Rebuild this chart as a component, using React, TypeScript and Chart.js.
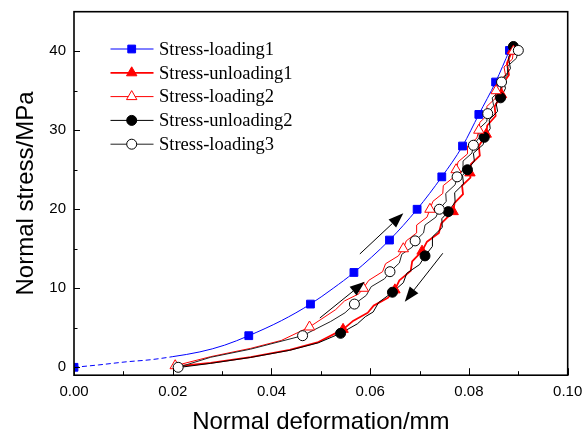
import React, { useEffect, useRef } from 'react';
import { Chart, registerables } from 'chart.js';
import { drawPoint } from 'chart.js/helpers';

Chart.register(...registerables);

// ---- axis ticks ----
const xMajorTicks = [0, 0.02, 0.04, 0.06, 0.08, 0.1];
const xMinorTicks = [0.01, 0.03, 0.05, 0.07, 0.09];
const yMajorTicks = [0, 10, 20, 30, 40];
const yMinorTicks = [5, 15, 25, 35];

const seriesNames = [
  'Stress-loading1',
  'Stress-unloading1',
  'Stress-loading2',
  'Stress-unloading2',
  'Stress-loading3',
];

// ---- Stress-loading1 ----
const loading1Def = [0, 0.005, 0.0107, 0.0154, 0.02, 0.0255, 0.0305, 0.0354, 0.042, 0.0479, 0.0525, 0.0567, 0.0639, 0.0695, 0.0745, 0.0787, 0.082, 0.0854, 0.0882];
const loading1Stress = [0, 0.3, 0.7, 0.95, 1.35, 1.95, 2.8, 4.0, 5.9, 8.0, 10.0, 12.0, 16.1, 20.0, 24.1, 28.0, 32.0, 36.1, 40.1];
const loading1MarkDef = [0, 0.0354, 0.0479, 0.0567, 0.0639, 0.0695, 0.0745, 0.0787, 0.082, 0.0854, 0.0882];
const loading1MarkStress = [0, 4, 8, 12, 16.1, 20, 24.1, 28, 32, 36.1, 40.1];

// ---- Stress-unloading1 ----
const unloading1Def = [
  0.0205, 0.0277, 0.0358, 0.0437, 0.0495, 0.0545, 0.0566, 0.0595, 0.0607, 0.0636, 0.065,
  0.0659, 0.0682, 0.0685, 0.0705, 0.0715, 0.0739, 0.0744, 0.0768, 0.0771, 0.0788, 0.0786, 0.0803,
  0.0802, 0.0804, 0.0822, 0.082, 0.0835, 0.0837, 0.0854, 0.0852, 0.0866, 0.0866, 0.0881, 0.0877, 0.0888,
];
const unloading1Stress = [
  0.1, 0.55, 1.3, 2.2, 3.2, 4.8, 5.9, 6.9, 7.8, 8.8, 9.8,
  11.0, 12.2, 13.4, 14.7, 15.9, 17.0, 18.2, 19.7, 20.8, 21.9, 23.0, 24.0,
  24.6, 25.7, 26.8, 28.0, 29.5, 30.6, 31.8, 33.0, 34.5, 35.7, 37.0, 38.5, 40.1,
];
const unloading1MarkDef = [0.0545, 0.065, 0.0705, 0.0768, 0.0802, 0.0835, 0.0866, 0.0888];
const unloading1MarkStress = [4.8, 9.8, 14.7, 19.7, 24.6, 29.5, 34.5, 40.1];

// ---- Stress-loading2 ----
const loading2Def = [
  0.0205, 0.0277, 0.0358, 0.042, 0.0477, 0.053, 0.0548, 0.0577, 0.0586,
  0.0597, 0.0625, 0.0631, 0.0657, 0.0667, 0.0673, 0.0694, 0.0694, 0.0715, 0.0721,
  0.0727, 0.0747, 0.0748, 0.0768, 0.0774, 0.0778, 0.0797, 0.0797, 0.0816, 0.082,
  0.0822, 0.0839, 0.0836, 0.0853, 0.0855, 0.0857, 0.0874, 0.0871, 0.0888, 0.089,
];
const loading2Stress = [
  0.2, 1.35, 2.4, 3.4, 5.1, 7.3, 8.4, 9.3, 10.0,
  11.0, 12.1, 13.1, 14.1, 15.0, 16.0, 17.0, 18.0, 19.0, 20.0,
  21.0, 22.0, 23.0, 24.0, 25.0, 26.0, 27.0, 28.0, 29.0, 30.0,
  31.0, 32.0, 33.0, 34.0, 35.0, 36.0, 37.0, 38.0, 39.0, 40.0,
];
const loading2MarkDef = [0.0205, 0.0477, 0.0586, 0.0667, 0.0721, 0.0774, 0.082, 0.0855, 0.089];
const loading2MarkStress = [0.2, 5.1, 10, 15, 20, 25, 30, 35, 40];

// ---- Stress-unloading2 ----
const unloading2Def = [
  0.0215, 0.0277, 0.0358, 0.0437, 0.0495, 0.054, 0.0574, 0.059, 0.0606, 0.0617, 0.0645,
  0.0667, 0.0674, 0.07, 0.0711, 0.0726, 0.0726, 0.0746, 0.0745, 0.0758,
  0.0772, 0.0771, 0.0789, 0.0787, 0.0797, 0.0811, 0.0809, 0.0829, 0.0831,
  0.0843, 0.0841, 0.0858, 0.0855, 0.0864, 0.0874, 0.0869, 0.0884, 0.088, 0.089,
];
const unloading2Stress = [
  0, 0.5, 1.25, 2.15, 3.1, 4.3, 5.5, 6.4, 7.0, 8.2, 9.5,
  10.7, 11.9, 13.0, 14.1, 15.3, 16.5, 17.7, 18.8, 19.7,
  20.9, 22.1, 23.2, 24.3, 25.0, 26.1, 27.1, 28.2, 29.1,
  30.2, 31.3, 32.4, 33.4, 34.1, 35.3, 36.5, 37.8, 39.2, 40.6,
];
const unloading2MarkDef = [0.054, 0.0645, 0.0711, 0.0758, 0.0797, 0.0831, 0.0864, 0.089];
const unloading2MarkStress = [4.3, 9.5, 14.1, 19.7, 25.0, 29.1, 34.1, 40.6];

// ---- Stress-loading3 ----
const loading3Def = [
  0.0211, 0.0277, 0.0358, 0.0463, 0.052, 0.0549, 0.0568, 0.0592, 0.0602, 0.0629, 0.064,
  0.0659, 0.0664, 0.0685, 0.0691, 0.0708, 0.0711, 0.0733, 0.074, 0.0754, 0.0753, 0.0772, 0.0776,
  0.0789, 0.0788, 0.0806, 0.0809, 0.0821, 0.0819, 0.0836, 0.0838, 0.085, 0.0847, 0.0864, 0.0866,
  0.0879, 0.0878, 0.0896, 0.09,
];
const loading3Stress = [
  0, 1.27, 2.3, 4.0, 5.8, 6.9, 8.0, 9.1, 10.2, 11.2, 12.1,
  13.2, 14.3, 15.2, 16.0, 17.0, 18.0, 19.0, 20.0, 21.0, 22.0, 23.1, 24.1,
  25.1, 26.1, 27.1, 28.1, 29.1, 30.1, 31.1, 32.1, 33.1, 34.1, 35.1, 36.1,
  37.1, 38.1, 39.1, 40.1,
];
const loading3MarkDef = [0.0211, 0.0463, 0.0568, 0.064, 0.0691, 0.074, 0.0776, 0.0809, 0.0838, 0.0866, 0.09];
const loading3MarkStress = [0, 4, 8, 12.1, 16, 20, 24.1, 28.1, 32.1, 36.1, 40.1];

// ---- direction arrows (data coords) ----
const arrowFromDef = [0.0498, 0.0579, 0.0747];
const arrowFromStress = [6.24, 14.34, 14.43];
const arrowToDef = [0.0589, 0.0667, 0.067];
const arrowToStress = [10.83, 19.49, 8.3];

const pts = (xs: number[], ys: number[]) => xs.map((x, i) => ({ x, y: ys[i] }));

const BLUE = '#0000ff';
const RED = '#ff0000';
const BLACK = '#000000';
const GREY = '#222222';

const seriesStyle = [
  { line: BLUE, lw: 1, style: 'rect', r: 5.5, fill: BLUE, stroke: BLUE, smooth: true },
  { line: RED, lw: 1.8, style: 'triangle', r: 6, fill: RED, stroke: RED, smooth: false },
  { line: RED, lw: 1, style: 'triangle', r: 6, fill: '#ffffff', stroke: RED, smooth: false },
  { line: BLACK, lw: 1, style: 'circle', r: 5, fill: BLACK, stroke: BLACK, smooth: false },
  { line: GREY, lw: 1, style: 'circle', r: 5, fill: '#ffffff', stroke: BLACK, smooth: false },
];

const frameTicksPlugin = {
  id: 'frameTicks',
  afterDatasetsDraw(chart: any) {
    const { ctx, chartArea: a, scales } = chart;
    const xs = scales.x;
    const ys = scales.y;
    ctx.save();
    ctx.strokeStyle = '#000';
    ctx.lineWidth = 1;
    ctx.beginPath();
    xMajorTicks.forEach((v) => {
      const px = Math.round(xs.getPixelForValue(v)) + 0.5;
      ctx.moveTo(px, a.bottom);
      ctx.lineTo(px, a.bottom - 7);
    });
    xMinorTicks.forEach((v) => {
      const px = Math.round(xs.getPixelForValue(v)) + 0.5;
      ctx.moveTo(px, a.bottom);
      ctx.lineTo(px, a.bottom - 4);
    });
    yMajorTicks.forEach((v) => {
      const py = Math.round(ys.getPixelForValue(v)) + 0.5;
      ctx.moveTo(a.left, py);
      ctx.lineTo(a.left + 6, py);
    });
    yMinorTicks.forEach((v) => {
      const py = Math.round(ys.getPixelForValue(v)) + 0.5;
      ctx.moveTo(a.left, py);
      ctx.lineTo(a.left + 3.5, py);
    });
    ctx.stroke();
    ctx.lineWidth = 1.6;
    ctx.strokeRect(a.left, a.top, a.right - a.left, a.bottom - a.top);
    ctx.restore();
  },
};

const arrowsPlugin = {
  id: 'arrows',
  afterDatasetsDraw(chart: any) {
    const { ctx, scales } = chart;
    ctx.save();
    ctx.strokeStyle = '#000';
    ctx.fillStyle = '#000';
    ctx.lineWidth = 1;
    arrowFromDef.forEach((_, i) => {
      const x0 = scales.x.getPixelForValue(arrowFromDef[i]);
      const y0 = scales.y.getPixelForValue(arrowFromStress[i]);
      const x1 = scales.x.getPixelForValue(arrowToDef[i]);
      const y1 = scales.y.getPixelForValue(arrowToStress[i]);
      const ang = Math.atan2(y1 - y0, x1 - x0);
      const hl = 15;
      const hw = 5.5;
      const bx = x1 - hl * Math.cos(ang);
      const by = y1 - hl * Math.sin(ang);
      ctx.beginPath();
      ctx.moveTo(x0, y0);
      ctx.lineTo(bx, by);
      ctx.stroke();
      ctx.beginPath();
      ctx.moveTo(x1, y1);
      ctx.lineTo(bx + hw * Math.sin(ang), by - hw * Math.cos(ang));
      ctx.lineTo(bx - hw * Math.sin(ang), by + hw * Math.cos(ang));
      ctx.closePath();
      ctx.fill();
    });
    ctx.restore();
  },
};

const legendPlugin = {
  id: 'customLegend',
  afterDraw(chart: any) {
    const { ctx } = chart;
    const rows = [49, 72.8, 96.6, 120.4, 144.2];
    ctx.save();
    ctx.font = '18.5px "Liberation Serif", "Times New Roman", serif';
    ctx.textBaseline = 'middle';
    ctx.textAlign = 'left';
    seriesNames.forEach((name, i) => {
      const s = seriesStyle[i];
      const y = rows[i];
      ctx.strokeStyle = s.line;
      ctx.lineWidth = s.lw;
      ctx.beginPath();
      ctx.moveTo(110.5, y);
      ctx.lineTo(153.5, y);
      ctx.stroke();
      ctx.fillStyle = s.fill;
      ctx.strokeStyle = s.stroke;
      ctx.lineWidth = 1;
      drawPoint(ctx, { pointStyle: s.style, radius: s.r, rotation: 0, borderWidth: 1 } as any, 131.7, y);
      ctx.fillStyle = '#000';
      ctx.fillText(name, 159, y + 1);
    });
    ctx.restore();
  },
};

const zeroPadding = (scale: any) => {
  scale.paddingLeft = 0;
  scale.paddingRight = 0;
  scale.paddingTop = 0;
  scale.paddingBottom = 0;
};

export default function App() {
  const canvasRef = useRef<HTMLCanvasElement | null>(null);

  useEffect(() => {
    const canvas = canvasRef.current;
    if (!canvas) return;

    const lines = [
      pts(loading1Def, loading1Stress),
      pts(unloading1Def, unloading1Stress),
      pts(loading2Def, loading2Stress),
      pts(unloading2Def, unloading2Stress),
      pts(loading3Def, loading3Stress),
    ];
    const marks = [
      pts(loading1MarkDef, loading1MarkStress),
      pts(unloading1MarkDef, unloading1MarkStress),
      pts(loading2MarkDef, loading2MarkStress),
      pts(unloading2MarkDef, unloading2MarkStress),
      pts(loading3MarkDef, loading3MarkStress),
    ];
    const lineOrder = [9, 7, 6, 5, 4];
    const markOrder = [8, 3, 1, 2, 0];

    const datasets: any[] = [];
    seriesNames.forEach((name, i) => {
      const s = seriesStyle[i];
      datasets.push({
        label: name,
        data: lines[i],
        showLine: true,
        borderColor: s.line,
        borderWidth: s.lw,
        pointRadius: 0,
        pointHoverRadius: 0,
        tension: 0,
        cubicInterpolationMode: s.smooth ? 'monotone' : 'default',
        borderJoinStyle: 'round',
        fill: false,
        order: lineOrder[i],
        segment:
          i === 0
            ? { borderDash: (c: any) => (c.p1.parsed.x <= 0.0201 ? [5, 3] : undefined) }
            : undefined,
      });
      datasets.push({
        label: name + ' markers',
        data: marks[i],
        showLine: false,
        pointStyle: s.style,
        pointRadius: s.r,
        pointHoverRadius: s.r,
        pointBackgroundColor: s.fill,
        pointBorderColor: s.stroke,
        pointBorderWidth: 1,
        order: markOrder[i],
      });
    });

    const chart = new Chart(canvas, {
      type: 'scatter',
      data: { datasets },
      options: {
        animation: false,
        responsive: false,
        maintainAspectRatio: false,
        layout: { padding: { top: 11.7, right: 15.3, left: 0, bottom: 0 } },
        plugins: {
          legend: { display: false },
          tooltip: { enabled: false },
        },
        scales: {
          x: {
            type: 'linear',
            min: 0,
            max: 0.1,
            afterBuildTicks: (scale: any) => {
              scale.ticks = xMajorTicks.map((v) => ({ value: v }));
            },
            afterFit: (scale: any) => {
              scale.height = 59.8;
              zeroPadding(scale);
            },
            grid: { display: false, drawTicks: false },
            border: { display: false },
            ticks: {
              padding: 8,
              color: '#000',
              font: { family: '"Liberation Sans", Arial, sans-serif', size: 15 },
              maxRotation: 0,
              callback: (v: any) => Number(v).toFixed(2),
            },
            title: {
              display: true,
              text: 'Normal deformation/mm',
              color: '#000',
              font: { family: '"Liberation Sans", Arial, sans-serif', size: 24, lineHeight: 1 },
              padding: { top: 0, bottom: 1 },
            },
          },
          y: {
            type: 'linear',
            min: -1,
            max: 45,
            afterBuildTicks: (scale: any) => {
              scale.ticks = yMajorTicks.map((v) => ({ value: v }));
            },
            afterFit: (scale: any) => {
              scale.width = 74;
              zeroPadding(scale);
            },
            grid: { display: false, drawTicks: false },
            border: { display: false },
            ticks: {
              padding: 8,
              color: '#000',
              font: { family: '"Liberation Sans", Arial, sans-serif', size: 15 },
              callback: (v: any) => String(v),
            },
            title: {
              display: true,
              text: 'Normal stress/MPa',
              color: '#000',
              font: { family: '"Liberation Sans", Arial, sans-serif', size: 24, lineHeight: 1 },
              padding: { top: 14, bottom: 0 },
            },
          },
        },
      },
      plugins: [frameTicksPlugin, arrowsPlugin, legendPlugin],
    });

    return () => chart.destroy();
  }, []);

  return (
    <div style={{ position: 'fixed', left: 0, top: 0, width: 583, height: 435, background: '#fff' }}>
      <canvas ref={canvasRef} width={583} height={435} style={{ display: 'block', width: 583, height: 435 }} />
    </div>
  );
}
